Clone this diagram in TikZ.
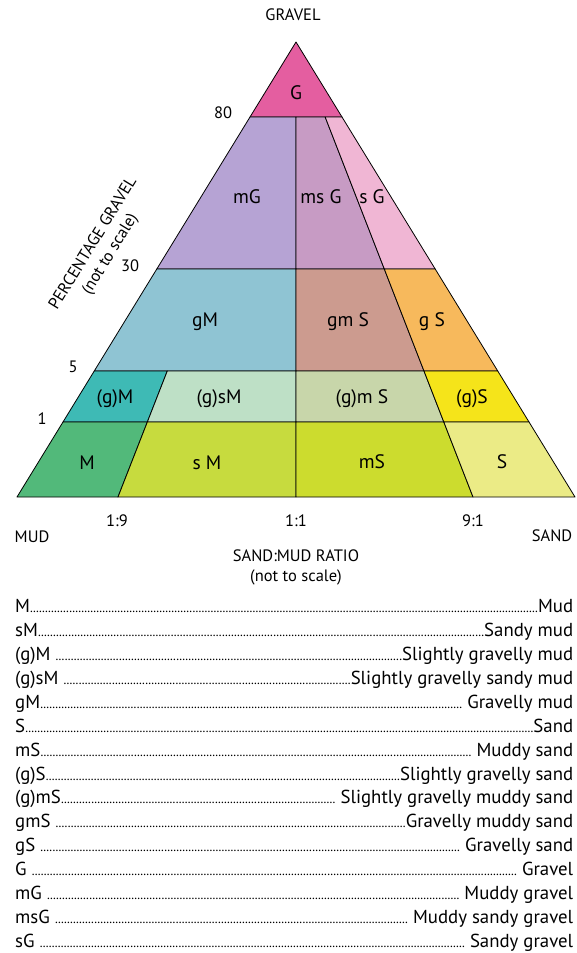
\documentclass[tikz,border=0pt]{standalone}
\usepackage{fontspec}
\setmainfont{PT Sans}
\usetikzlibrary{calc}
\definecolor{cG}{RGB}{228,94,160}
\definecolor{cmG}{RGB}{182,163,212}
\definecolor{cmsG}{RGB}{199,155,196}
\definecolor{csG}{RGB}{240,182,212}
\definecolor{cgM}{RGB}{143,196,211}
\definecolor{cgmS}{RGB}{204,155,143}
\definecolor{cgS}{RGB}{247,185,92}
\definecolor{cgiM}{RGB}{62,186,181}
\definecolor{cgisM}{RGB}{190,224,198}
\definecolor{cgimS}{RGB}{200,214,170}
\definecolor{cgiS}{RGB}{245,228,26}
\definecolor{cM}{RGB}{82,185,122}
\definecolor{csM}{RGB}{199,219,62}
\definecolor{cmS}{RGB}{204,220,46}
\definecolor{cS}{RGB}{235,235,134}
\newcommand\lrow[2]{\hbox to 558pt{#1\xleaders\hbox to 3pt{\hss\fontsize{13}{13}\selectfont.\hss}\hfill#2}}
\tikzset{
  region/.style={draw=black, line width=0.8pt, line join=round},
  rlabel/.style={font=\fontsize{19.5}{22}\selectfont, inner sep=0pt},
  axlabel/.style={font=\fontsize{16.5}{20}\selectfont, inner sep=0pt, align=center},
  legrow/.style={font=\fontsize{18.8}{22}\selectfont, inner sep=0pt, anchor=base west}
}
\begin{document}
\begin{tikzpicture}[x=1pt,y=-1pt]
\useasboundingbox (0,0) rectangle (576,953);
% main vertices
\coordinate (T) at (296,42);
\coordinate (L) at (17,497);
\coordinate (R) at (575,497);
\coordinate (Bm) at (296,497);
\coordinate (Bp) at (118,497);
\coordinate (Bn) at (473,497);
% levels
\foreach \n/\f in {80/0.1648, 30/0.4989, 5/0.7231, 1/0.8352}{
  \coordinate (a\n L) at ($(T)!\f!(L)$);
  \coordinate (a\n R) at ($(T)!\f!(R)$);
  \coordinate (m\n) at ($(T)!\f!(Bm)$);
  \coordinate (p\n) at ($(T)!\f!(Bp)$);
  \coordinate (n\n) at ($(T)!\f!(Bn)$);
}
% regions
\filldraw[region, fill=cG] (T) -- (a80L) -- (a80R) -- cycle;
\filldraw[region, fill=cmG] (a80L) -- (m80) -- (m30) -- (a30L) -- cycle;
\filldraw[region, fill=cmsG] (m80) -- (n80) -- (n30) -- (m30) -- cycle;
\filldraw[region, fill=csG] (n80) -- (a80R) -- (a30R) -- (n30) -- cycle;
\filldraw[region, fill=cgM] (a30L) -- (m30) -- (m5) -- (a5L) -- cycle;
\filldraw[region, fill=cgmS] (m30) -- (n30) -- (n5) -- (m5) -- cycle;
\filldraw[region, fill=cgS] (n30) -- (a30R) -- (a5R) -- (n5) -- cycle;
\filldraw[region, fill=cgiM] (a5L) -- (p5) -- (p1) -- (a1L) -- cycle;
\filldraw[region, fill=cgisM] (p5) -- (m5) -- (m1) -- (p1) -- cycle;
\filldraw[region, fill=cgimS] (m5) -- (n5) -- (n1) -- (m1) -- cycle;
\filldraw[region, fill=cgiS] (n5) -- (a5R) -- (a1R) -- (n1) -- cycle;
\filldraw[region, fill=cM] (a1L) -- (p1) -- (Bp) -- (L) -- cycle;
\filldraw[region, fill=csM] (p1) -- (m1) -- (Bm) -- (Bp) -- cycle;
\filldraw[region, fill=cmS] (m1) -- (n1) -- (Bn) -- (Bm) -- cycle;
\filldraw[region, fill=cS] (n1) -- (a1R) -- (R) -- (Bn) -- cycle;
% region labels
\node[rlabel] (lG) at (296,93) {G};
\node[rlabel] (lmG) at (247,197) {mG};
\node[rlabel] (lmsG) at (321,197) {ms G};
\node[rlabel] (lsG) at (372,197) {s G};
\node[rlabel] (lgM) at (205,322) {gM};
\node[rlabel] (lgmS) at (348,322) {gm S};
\node[rlabel] (lgS) at (432,322) {g S};
\node[rlabel] (lgiM) at (115,399) {(g)M};
\node[rlabel] (lgisM) at (219,399) {(g)sM};
\node[rlabel] (lgimS) at (362,399) {(g)m S};
\node[rlabel] (lgiS) at (472,399) {(g)S};
\node[rlabel] (lM) at (87,463) {M};
\node[rlabel] (lsM) at (207,463) {s M};
\node[rlabel] (lmS) at (372,462) {mS};
\node[rlabel] (lS) at (502,462) {S};
% axis labels
\node[axlabel] (gravel) at (293,15) {GRAVEL};
\node[axlabel] (t80) at (223,113) {80};
\node[axlabel] (t30) at (130,266) {30};
\node[axlabel] (t5) at (73,367) {5};
\node[axlabel] (t1) at (42,419) {1};
\node[axlabel, rotate=58.5] (pg) at (102,249) {PERCENTAGE GRAVEL\\(not to scale)};
\node[axlabel] (r19) at (117,521) {1:9};
\node[axlabel] (r11) at (296,521) {1:1};
\node[axlabel] (r91) at (473,521) {9:1};
\node[axlabel] (mud) at (32,537) {MUD};
\node[axlabel] (sand) at (552,536) {SAND};
\node[axlabel] (smr) at (296,567) {SAND:MUD RATIO\\(not to scale)};
% legend
\node[legrow] (k1) at (15,612.5) {\lrow{M}{Mud}};
\node[legrow] (k2) at (15,636.4) {\lrow{sM}{Sandy mud}};
\node[legrow] (k3) at (15,660.4) {\lrow{(g)M }{Slightly gravelly mud}};
\node[legrow] (k4) at (15,684.3) {\lrow{(g)sM }{Slightly gravelly sandy mud}};
\node[legrow] (k5) at (15,708.2) {\lrow{gM}{ Gravelly mud}};
\node[legrow] (k6) at (15,732.2) {\lrow{S}{Sand}};
\node[legrow] (k7) at (15,756.1) {\lrow{mS}{ Muddy sand}};
\node[legrow] (k8) at (15,780.0) {\lrow{(g)S}{Slightly gravelly sand}};
\node[legrow] (k9) at (15,803.9) {\lrow{(g)mS}{ Slightly gravelly muddy sand}};
\node[legrow] (k10) at (15,827.9) {\lrow{gmS }{Gravelly muddy sand}};
\node[legrow] (k11) at (15,851.8) {\lrow{gS }{ Gravelly sand}};
\node[legrow] (k12) at (15,875.7) {\lrow{G }{ Gravel}};
\node[legrow] (k13) at (15,899.7) {\lrow{mG }{ Muddy gravel}};
\node[legrow] (k14) at (15,923.6) {\lrow{msG }{ Muddy sandy gravel}};
\node[legrow] (k15) at (15,947.5) {\lrow{sG }{ Sandy gravel}};
\end{tikzpicture}
\end{document}
